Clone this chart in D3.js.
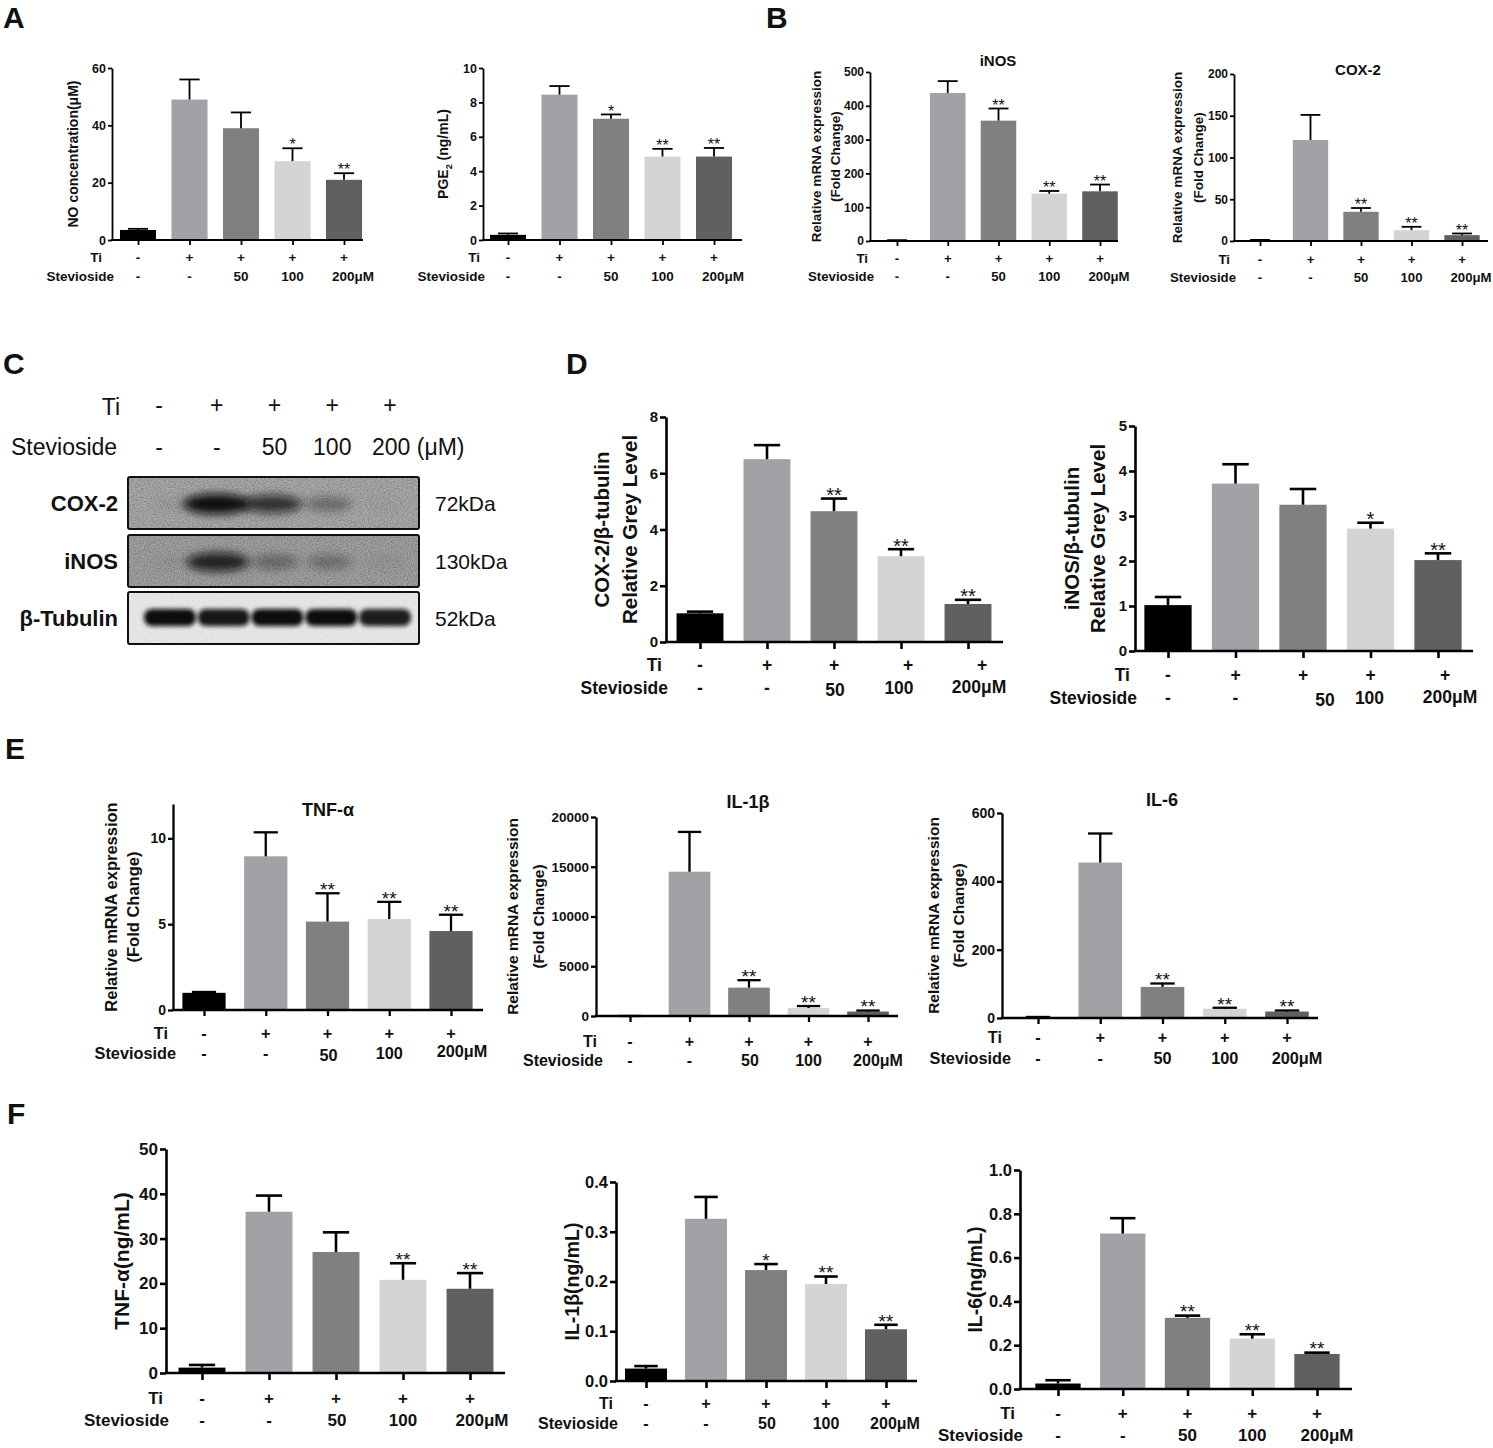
<!DOCTYPE html>
<html>
<head>
<meta charset="utf-8">
<script src="https://cdnjs.cloudflare.com/ajax/libs/d3/7.8.5/d3.min.js"></script>
<style>
  body { margin: 0; background: #fff; }
  svg { display: block; }
  text { font-family: "Liberation Sans", Arial, sans-serif; fill: #111; }
</style>
</head>
<body>
<div id="chart-area"></div>
<script>
// ---- data ----
var tiRow = ['-', '+', '+', '+', '+'];
var stevRow = ['-', '-', '50', '100', '200μM'];
var barColors = ['#000000', '#a1a1a6', '#808080', '#d4d4d4', '#606060'];

// A: NO and PGE2
var noConc = [3.5, 49, 39, 27.5, 21];
var noErr = [0.4, 7, 5.5, 4.5, 2.3];
var noSig = ['', '', '', '*', '**'];
var pge2 = [0.3, 8.45, 7.05, 4.85, 4.85];
var pge2Err = [0.08, 0.5, 0.25, 0.45, 0.5];
var pge2Sig = ['', '', '*', '**', '**'];

// B: mRNA iNOS, COX-2
var inosMrna = [2, 438, 356, 140, 147];
var inosMrnaErr = [0.5, 35, 36, 8, 20];
var cox2Mrna = [1, 121, 35, 13, 7];
var cox2MrnaErr = [0.3, 30, 4.5, 4, 2];
var mrnaSig = ['', '', '**', '**', '**'];

// C: western blot
var blotHeadTi = ['-', '+', '+', '+', '+'];
var blotHeadStev = ['-', '-', '50', '100', '200 (μM)'];
var blotProteins = ['COX-2', 'iNOS', 'β-Tubulin'];
var blotSizes = ['72kDa', '130kDa', '52kDa'];
var cox2Density = [0.06, 1.0, 0.75, 0.35, 0.03];
var inosDensity = [0.05, 0.85, 0.35, 0.3, 0.06];
var tubulinDensity = [1.0, 0.95, 1.0, 1.0, 0.92];

// D: grey level
var cox2Grey = [1.02, 6.5, 4.65, 3.05, 1.35];
var cox2GreyErr = [0.06, 0.5, 0.45, 0.25, 0.15];
var cox2GreySig = ['', '', '**', '**', '**'];
var inosGrey = [1.02, 3.72, 3.25, 2.72, 2.02];
var inosGreyErr = [0.18, 0.43, 0.35, 0.13, 0.15];
var inosGreySig = ['', '', '', '*', '**'];

// E: mRNA TNF-a, IL-1b, IL-6
var tnfMrna = [1.0, 8.95, 5.15, 5.3, 4.6];
var tnfMrnaErr = [0.05, 1.4, 1.65, 1.0, 0.95];
var il1bMrna = [1, 14500, 2850, 800, 450];
var il1bMrnaErr = [1, 4000, 750, 200, 100];
var il6Mrna = [2, 455, 91, 27, 19];
var il6MrnaErr = [1, 85, 10, 3, 3];

// F: ELISA
var tnfElisa = [1.2, 36, 27, 20.8, 18.8];
var tnfElisaErr = [0.6, 3.6, 4.4, 3.7, 3.5];
var tnfElisaSig = ['', '', '', '**', '**'];
var il1bElisa = [0.025, 0.326, 0.223, 0.195, 0.104];
var il1bElisaErr = [0.005, 0.044, 0.012, 0.015, 0.009];
var il1bElisaSig = ['', '', '*', '**', '**'];
var il6Elisa = [0.025, 0.71, 0.325, 0.23, 0.16];
var il6ElisaErr = [0.015, 0.07, 0.01, 0.02, 0.006];
var il6ElisaSig = ['', '', '**', '**', '**'];

var W = 1493, H = 1448;
var svg = d3.select('#chart-area').append('svg')
  .attr('width', W).attr('height', H);

// panel setups (layout only, values come from the arrays above)
var small = { tickFs: 12.5, rowFs: 13.5, sw: 1.8, starFs: 16, starGap: 7, tickLen: 4 };
var big = { tickFs: 15, rowFs: 17.5, sw: 2.6, starFs: 20, starGap: 8, tickLen: 6 };
var mid = { tickFs: 14, rowFs: 16.3, sw: 2.3, starFs: 19, starGap: 8, tickLen: 5 };
var elisa = { tickFs: 16.5, rowFs: 17, sw: 2.6, starFs: 19, starGap: 8, tickLen: 6 };

var panels = [
  Object.assign({}, small, { values: noConc, errors: noErr, sig: noSig, max: 60, ticks: [0, 20, 40, 60], fmt: 'd',
    ax: 112, y0: 240, yTop: 68, c0: 138, c4: 344, xEnd: 363,
    tiY: 257, stevY: 276, tiRight: 102, stevRight: 114,
    ytitle: ['NO concentration(μM)'], ytitleX: [73], ytitleFs: 14,
    stevDx: [0, 0, 0, 0, 9] }),
  Object.assign({}, small, { values: pge2, errors: pge2Err, sig: pge2Sig, max: 10, ticks: [0, 2, 4, 6, 8, 10], fmt: 'd',
    ax: 483, y0: 240, yTop: 68, c0: 508, c4: 714, xEnd: 742,
    tiY: 257, stevY: 276, tiRight: 480, stevRight: 485,
    ytitle: ['PGE2'], ytitleX: [443], ytitleFs: 14, sub: true,
    stevDx: [0, 0, 0, 0, 9] }),
  Object.assign({}, small, { values: inosMrna, errors: inosMrnaErr, sig: mrnaSig, max: 500, ticks: [0, 100, 200, 300, 400, 500], fmt: 'd',
    tickFs: 12, rowFs: 13.2,
    ax: 870, y0: 241, yTop: 72, c0: 897, c4: 1100, xEnd: 1118,
    tiY: 258, stevY: 276, tiRight: 868, stevRight: 874,
    ytitle: ['Relative mRNA expression', '(Fold Change)'], ytitleX: [816, 835], ytitleFs: 13.5,
    title: 'iNOS', titleX: 998, titleY: 61, titleFs: 15, stevDx: [0, 0, 0, 0, 9] }),
  Object.assign({}, small, { values: cox2Mrna, errors: cox2MrnaErr, sig: mrnaSig, max: 200, ticks: [0, 50, 100, 150, 200], fmt: 'd',
    tickFs: 12, rowFs: 13.2,
    ax: 1234, y0: 241, yTop: 74, c0: 1260, c4: 1462, xEnd: 1488,
    tiY: 259, stevY: 277, tiRight: 1230, stevRight: 1236,
    ytitle: ['Relative mRNA expression', '(Fold Change)'], ytitleX: [1177, 1198], ytitleFs: 13.5,
    title: 'COX-2', titleX: 1358, titleY: 70, titleFs: 15, stevDx: [0, 0, 0, 0, 9] }),
  Object.assign({}, big, { values: cox2Grey, errors: cox2GreyErr, sig: cox2GreySig, max: 8, ticks: [0, 2, 4, 6, 8], fmt: 'd',
    ax: 666, y0: 642, yTop: 417, c0: 700, c4: 968, xEnd: 1003,
    tiY: 665, stevY: 688, tiRight: 662, stevRight: 668,
    ytitle: ['COX-2/β-tubulin', 'Relative Grey Level'], ytitleX: [602, 630], ytitleFs: 20.5,
    tiDx: [0, 0, 0, 7, 14], stevDx: [0, 0, 1, -2, 11], stevDy: [0, 0, 2, 0, -1] }),
  Object.assign({}, big, { values: inosGrey, errors: inosGreyErr, sig: inosGreySig, max: 5, ticks: [0, 1, 2, 3, 4, 5], fmt: 'd',
    ax: 1135, y0: 651, yTop: 426, c0: 1168, c4: 1438, xEnd: 1473,
    tiY: 675, stevY: 698, tiRight: 1130, stevRight: 1137,
    ytitle: ['iNOS/β-tubulin', 'Relative Grey Level'], ytitleX: [1072, 1098], ytitleFs: 20.5,
    tiDx: [0, 0, 0, 0, 7], stevDx: [0, 0, 22, -1, 12], stevDy: [0, 0, 2, 0, -1] }),
  Object.assign({}, mid, { values: tnfMrna, errors: tnfMrnaErr, sig: mrnaSig, max: 12, ticks: [0, 5, 10], fmt: 'd',
    ax: 173, y0: 1010, yTop: 804, c0: 204, c4: 451, xEnd: 483,
    tiY: 1033, stevY: 1053, tiRight: 168, stevRight: 176,
    ytitle: ['Relative mRNA expression', '(Fold Change)'], ytitleX: [111, 133], ytitleFs: 16.5,
    title: 'TNF-α', titleX: 328, titleY: 810, titleFs: 18, stevDx: [0, 0, 1, 0, 11], stevDy: [0, 0, 2, 0, -2] }),
  Object.assign({}, mid, { values: il1bMrna, errors: il1bMrnaErr, sig: mrnaSig, max: 20000, ticks: [0, 5000, 10000, 15000, 20000], fmt: 'd',
    ax: 596, y0: 1016, yTop: 817, c0: 630, c4: 868, xEnd: 898,
    tickFs: 13.5, rowFs: 16,
    tiY: 1041, stevY: 1060, tiRight: 597, stevRight: 603,
    ytitle: ['Relative mRNA expression', '(Fold Change)'], ytitleX: [512, 538], ytitleFs: 15.5,
    title: 'IL-1β', titleX: 748, titleY: 802, titleFs: 18, stevDx: [0, 0, 1, 0, 10] }),
  Object.assign({}, mid, { values: il6Mrna, errors: il6MrnaErr, sig: mrnaSig, max: 600, ticks: [0, 200, 400, 600], fmt: 'd',
    ax: 1002, y0: 1018, yTop: 813, c0: 1038, c4: 1287, xEnd: 1318,
    tiY: 1037, stevY: 1058, tiRight: 1002, stevRight: 1011,
    ytitle: ['Relative mRNA expression', '(Fold Change)'], ytitleX: [933, 958], ytitleFs: 15.5,
    title: 'IL-6', titleX: 1162, titleY: 800, titleFs: 18, stevDx: [0, 0, 0, 0, 10] }),
  Object.assign({}, elisa, { values: tnfElisa, errors: tnfElisaErr, sig: tnfElisaSig, max: 50, ticks: [0, 10, 20, 30, 40, 50], fmt: 'd',
    tickFs: 17,
    ax: 166, y0: 1373, yTop: 1149, c0: 202, c4: 470, xEnd: 505,
    tiY: 1398, stevY: 1420, tiRight: 163, stevRight: 169,
    ytitle: ['TNF-α(ng/mL)'], ytitleX: [121], ytitleFs: 21,
    stevDx: [0, 0, 1, 0, 12] }),
  Object.assign({}, elisa, { values: il1bElisa, errors: il1bElisaErr, sig: il1bElisaSig, max: 0.4, ticks: [0, 0.1, 0.2, 0.3, 0.4], fmt: '.1f',
    rowFs: 16,
    ax: 616, y0: 1381, yTop: 1182, c0: 646, c4: 886, xEnd: 917,
    tiY: 1403, stevY: 1423, tiRight: 613, stevRight: 618,
    ytitle: ['IL-1β(ng/mL)'], ytitleX: [572], ytitleFs: 19.5,
    stevDx: [0, 0, 1, 0, 9] }),
  Object.assign({}, elisa, { values: il6Elisa, errors: il6ElisaErr, sig: il6ElisaSig, max: 1.0, ticks: [0, 0.2, 0.4, 0.6, 0.8, 1.0], fmt: '.1f',
    ax: 1020, y0: 1389, yTop: 1170, c0: 1058, c4: 1317, xEnd: 1352,
    tiY: 1413, stevY: 1435, tiRight: 1015, stevRight: 1023,
    ytitle: ['IL-6(ng/mL)'], ytitleX: [975], ytitleFs: 19.5,
    stevDx: [0, 0, 0, 0, 10] })
];

function drawPanel(p) {
  var g = svg.append('g');
  var y = d3.scaleLinear().domain([0, p.max]).range([p.y0, p.yTop]);
  var x = d3.scalePoint().domain(d3.range(p.values.length)).range([p.c0, p.c4]);
  var bw = x.step() * 0.7;
  var capW = bw * 0.56;

  // bars
  g.selectAll('rect.bar')
    .data(p.values)
    .join('rect')
      .attr('class', 'bar')
      .attr('x', (d, i) => x(i) - bw / 2)
      .attr('y', d => y(d))
      .attr('width', bw)
      .attr('height', d => p.y0 - y(d))
      .attr('fill', (d, i) => barColors[i]);

  // error bars (upper only)
  var eb = g.selectAll('g.err')
    .data(p.values)
    .join('g')
      .attr('class', 'err');
  eb.append('line')
    .attr('x1', (d, i) => x(i)).attr('x2', (d, i) => x(i))
    .attr('y1', d => y(d))
    .attr('y2', (d, i) => y(d + p.errors[i]))
    .attr('stroke', '#000').attr('stroke-width', p.sw);
  eb.append('line')
    .attr('x1', (d, i) => x(i) - capW / 2).attr('x2', (d, i) => x(i) + capW / 2)
    .attr('y1', (d, i) => y(d + p.errors[i]))
    .attr('y2', (d, i) => y(d + p.errors[i]))
    .attr('stroke', '#000').attr('stroke-width', p.sw);

  // significance stars
  g.selectAll('text.sig')
    .data(p.values)
    .join('text')
      .attr('class', 'sig')
      .attr('x', (d, i) => x(i))
      .attr('y', (d, i) => y(d + p.errors[i]) - p.starGap + p.starFs * 0.57)
      .attr('text-anchor', 'middle')
      .attr('font-size', p.starFs)
      .text((d, i) => p.sig[i]);

  // y axis
  var yAxis = d3.axisLeft(y)
    .tickValues(p.ticks)
    .tickFormat(d3.format(p.fmt))
    .tickSize(p.tickLen)
    .tickSizeOuter(0)
    .tickPadding(2);
  var ya = g.append('g')
    .attr('transform', 'translate(' + p.ax + ',0)')
    .call(yAxis);
  ya.selectAll('path, line').attr('stroke', '#000').attr('stroke-width', p.sw);
  ya.selectAll('text')
    .attr('font-size', p.tickFs)
    .attr('font-weight', 'bold')
    .attr('font-family', '"Liberation Sans", Arial, sans-serif')
    .attr('fill', '#111');

  // x baseline and ticks
  g.append('line')
    .attr('x1', p.ax - p.sw / 2).attr('x2', p.xEnd)
    .attr('y1', p.y0).attr('y2', p.y0)
    .attr('stroke', '#000').attr('stroke-width', p.sw);
  var xa = g.append('g')
    .attr('transform', 'translate(0,' + p.y0 + ')')
    .call(d3.axisBottom(x).tickSize(p.tickLen + 1).tickFormat(''));
  xa.select('.domain').remove();
  xa.selectAll('line').attr('stroke', '#000').attr('stroke-width', p.sw);

  // treatment rows
  var tiDx = p.tiDx || [0, 0, 0, 0, 0];
  var stevDx = p.stevDx || [0, 0, 0, 0, 0];
  var stevDy = p.stevDy || [0, 0, 0, 0, 0];
  var base = p.rowFs * 0.36;
  g.append('text')
    .attr('x', p.tiRight).attr('y', p.tiY + base)
    .attr('text-anchor', 'end').attr('font-weight', 'bold').attr('font-size', p.rowFs)
    .text('Ti');
  g.append('text')
    .attr('x', p.stevRight).attr('y', p.stevY + base)
    .attr('text-anchor', 'end').attr('font-weight', 'bold').attr('font-size', p.rowFs)
    .text('Stevioside');
  g.selectAll('text.ti')
    .data(tiRow)
    .join('text')
      .attr('class', 'ti')
      .attr('x', (d, i) => x(i) + tiDx[i])
      .attr('y', p.tiY + base)
      .attr('text-anchor', 'middle').attr('font-weight', 'bold').attr('font-size', p.rowFs)
      .text(d => d);
  g.selectAll('text.stev')
    .data(stevRow)
    .join('text')
      .attr('class', 'stev')
      .attr('x', (d, i) => x(i) + stevDx[i])
      .attr('y', (d, i) => p.stevY + base + stevDy[i])
      .attr('text-anchor', 'middle').attr('font-weight', 'bold').attr('font-size', p.rowFs)
      .text(d => d);

  // y title (rotated)
  var cy = (p.y0 + p.yTop) / 2;
  p.ytitle.forEach(function (line, k) {
    var t = g.append('text')
      .attr('transform', 'translate(' + (p.ytitleX[k] + p.ytitleFs * 0.36) + ',' + cy + ') rotate(-90)')
      .attr('text-anchor', 'middle')
      .attr('font-weight', 'bold')
      .attr('font-size', p.ytitleFs);
    if (p.sub) {
      t.append('tspan').text('PGE');
      t.append('tspan').attr('font-size', p.ytitleFs * 0.65).attr('dy', p.ytitleFs * 0.25).text('2');
      t.append('tspan').attr('dy', -p.ytitleFs * 0.25).text(' (ng/mL)');
    } else {
      t.text(line);
    }
  });

  if (p.title) {
    g.append('text')
      .attr('x', p.titleX).attr('y', p.titleY + p.titleFs * 0.36)
      .attr('text-anchor', 'middle').attr('font-weight', 'bold').attr('font-size', p.titleFs)
      .text(p.title);
  }
}

panels.forEach(drawPanel);

// ---- panel C: western blot ----
var defs = svg.append('defs');
var grain = defs.append('filter').attr('id', 'grain')
  .attr('x', 0).attr('y', 0).attr('width', 1).attr('height', 1);
grain.append('feTurbulence').attr('type', 'fractalNoise')
  .attr('baseFrequency', 0.7).attr('numOctaves', 2).attr('seed', 7);
grain.append('feColorMatrix').attr('type', 'matrix')
  .attr('values', '0 0 0 0 0  0 0 0 0 0  0 0 0 0 0  0 0 0 0.9 -0.3');
defs.append('filter').attr('id', 'bandBlur')
  .attr('x', '-50%').attr('y', '-100%').attr('width', '200%').attr('height', '300%')
  .append('feGaussianBlur').attr('stdDeviation', 4.5);
defs.append('filter').attr('id', 'tubBlur')
  .attr('x', '-20%').attr('y', '-50%').attr('width', '140%').attr('height', '200%')
  .append('feGaussianBlur').attr('stdDeviation', 2);

var blotX0 = 128, blotX1 = 419;
var blotRows = [
  { y: 477, h: 52, bg: '#ababab', dens: cox2Density, kind: 'soft' },
  { y: 535, h: 52, bg: '#a2a2a2', dens: inosDensity, kind: 'soft' },
  { y: 592, h: 52, bg: '#e8e8e8', dens: tubulinDensity, kind: 'sharp' }
];
var lane = d3.scalePoint().domain(d3.range(5)).range([170, 385]);
var head = d3.scalePoint().domain(d3.range(5)).range([159, 390]);
var gc = svg.append('g');

blotRows.forEach(function (r, k) {
  var clipId = 'blotclip' + k;
  defs.append('clipPath').attr('id', clipId)
    .append('rect').attr('x', blotX0).attr('y', r.y).attr('width', blotX1 - blotX0).attr('height', r.h);
  var bg = gc.append('g').attr('clip-path', 'url(#' + clipId + ')');
  bg.append('rect')
    .attr('x', blotX0).attr('y', r.y).attr('width', blotX1 - blotX0).attr('height', r.h)
    .attr('fill', r.bg);
  bg.append('rect')
    .attr('x', blotX0).attr('y', r.y).attr('width', blotX1 - blotX0).attr('height', r.h)
    .attr('fill', '#000')
    .attr('opacity', r.kind === 'soft' ? 0.5 : 0.1)
    .attr('filter', 'url(#grain)');
  if (r.kind === 'soft') {
    bg.selectAll('ellipse')
      .data(r.dens)
      .join('ellipse')
        .attr('cx', (d, i) => lane(i) - 7 * d)
        .attr('cy', r.y + r.h / 2 + 1)
        .attr('rx', d => 18 + 16 * d)
        .attr('ry', d => 6 + 4 * d)
        .attr('fill', '#0a0a0a')
        .attr('opacity', d => d)
        .attr('filter', 'url(#bandBlur)');
  } else {
    bg.selectAll('rect.band')
      .data(r.dens)
      .join('rect')
        .attr('class', 'band')
        .attr('x', (d, i) => lane(i) - 26)
        .attr('y', r.y + r.h / 2 - 9)
        .attr('width', 52)
        .attr('height', 17)
        .attr('rx', 8)
        .attr('fill', '#0c0c0c')
        .attr('opacity', d => d)
        .attr('filter', 'url(#tubBlur)');
  }
  gc.append('rect')
    .attr('x', blotX0).attr('y', r.y).attr('width', blotX1 - blotX0).attr('height', r.h)
    .attr('rx', 2)
    .attr('fill', 'none').attr('stroke', '#111').attr('stroke-width', 2);

  gc.append('text')
    .attr('x', 118).attr('y', r.y + r.h / 2 + 8)
    .attr('text-anchor', 'end').attr('font-weight', 'bold').attr('font-size', 22)
    .text(blotProteins[k]);
  gc.append('text')
    .attr('x', 435).attr('y', r.y + r.h / 2 + 8)
    .attr('text-anchor', 'start').attr('font-size', 21)
    .text(blotSizes[k]);
});

gc.append('text').attr('x', 120).attr('y', 415)
  .attr('text-anchor', 'end').attr('font-size', 23).text('Ti');
gc.append('text').attr('x', 11).attr('y', 455)
  .attr('text-anchor', 'start').attr('font-size', 23).text('Stevioside');
gc.selectAll('text.bti')
  .data(blotHeadTi)
  .join('text')
    .attr('class', 'bti')
    .attr('x', (d, i) => head(i)).attr('y', 413)
    .attr('text-anchor', 'middle').attr('font-size', 23)
    .text(d => d);
gc.selectAll('text.bst')
  .data(blotHeadStev)
  .join('text')
    .attr('class', 'bst')
    .attr('x', (d, i) => i < 4 ? head(i) : head(i) - 18)
    .attr('y', 455)
    .attr('text-anchor', (d, i) => i < 4 ? 'middle' : 'start')
    .attr('font-size', 23)
    .text(d => d);

// ---- panel letters ----
var letters = [['A', 3, 28], ['B', 766, 28], ['C', 3, 374], ['D', 566, 374], ['E', 5, 759], ['F', 7, 1124]];
svg.selectAll('text.letter')
  .data(letters)
  .join('text')
    .attr('class', 'letter')
    .attr('x', d => d[1]).attr('y', d => d[2])
    .attr('font-size', 30).attr('font-weight', 'bold')
    .text(d => d[0]);
</script>
</body>
</html>
